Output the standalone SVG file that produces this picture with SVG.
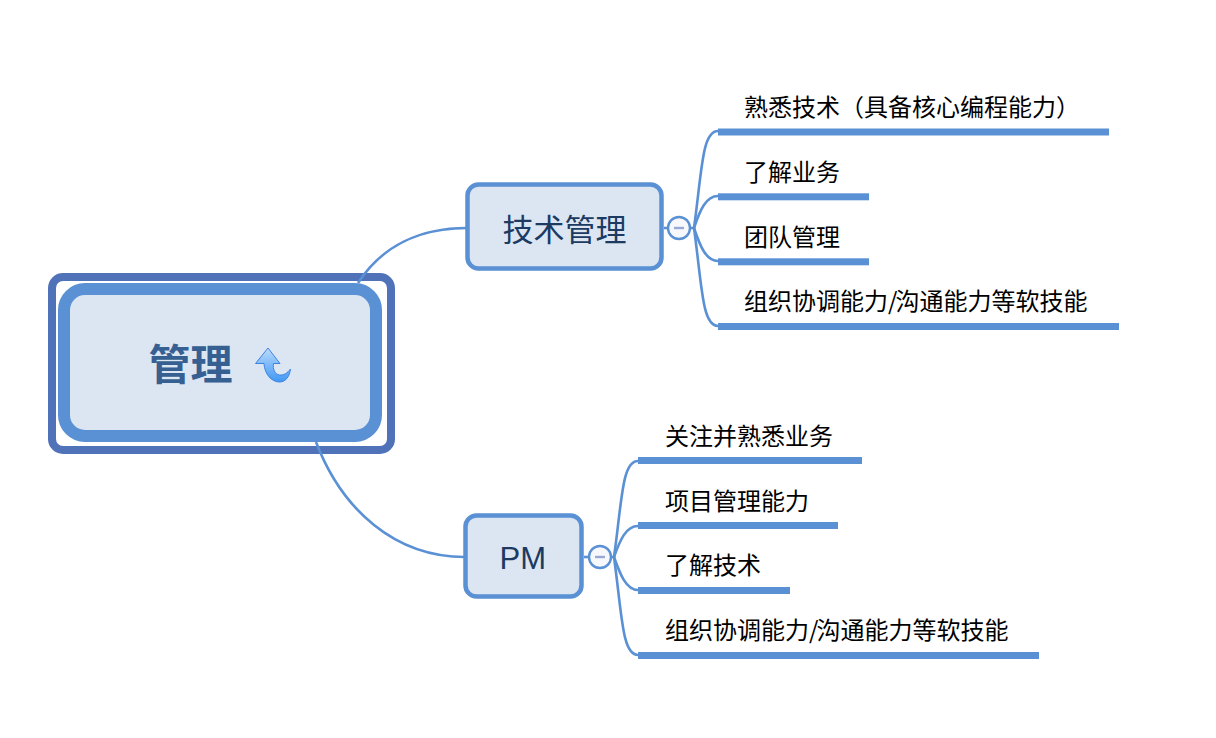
<svg xmlns="http://www.w3.org/2000/svg" width="1216" height="738" viewBox="0 0 1216 738">
<style>
text{font-family:"Noto Sans CJK SC","Liberation Sans",sans-serif}
.leaf{font-size:24px;fill:#000}
.topic{font-size:31px;fill:#1d3a63}
.box{fill:#dce6f2;stroke:#5a90d4;stroke-width:4.5}
.bar{fill:#5a90d4}
.con{fill:none;stroke:#5a90d4;stroke-width:2.6}
.col{fill:#f6f8fc;stroke:#5a90d4;stroke-width:2.4}
.minus{stroke:#9aa8d4;stroke-width:2.4}
</style>
<defs>
<linearGradient id="ar" x1="0" y1="0" x2="0" y2="1"><stop offset="0" stop-color="#bcdcfb"/><stop offset="1" stop-color="#3f97f5"/></linearGradient>
</defs>
<rect width="1216" height="738" fill="#fff"/>
<g id="root">
<rect x="52" y="277" width="339" height="173" rx="11" fill="#fff" stroke="#5072b9" stroke-width="8"/>
<rect x="64" y="289" width="312" height="147" rx="21" fill="#dce6f2" stroke="#5a90d4" stroke-width="12"/>
<text x="148.500" y="380" font-size="42" font-weight="700" fill="#365f92">管理</text>
<path d="M268 348L255.500 363.500H264C264.500 374 271.500 382 279.500 382C285.500 382 289.500 377 290.500 369C287.500 373 283.500 375.500 279.500 375C275 374.500 272.500 369 273.500 363.500H280Z" fill="url(#ar)" stroke="#3f83e0" stroke-width="1"/>
</g>
<g id="connectors">
<path class="con" d="M358 283C382 246 420 228 467 228"/>
<path class="con" d="M316 442C342 510 395 557 465 557"/>
<path class="con" d="M664 228H668"/>
<path class="con" d="M690 228H694"/>
<path class="con" d="M694 228C702 170 702 131 718 131"/>
<path class="con" d="M694 228C700 210 706 196 718 196"/>
<path class="con" d="M694 228C700 246 706 261 718 261"/>
<path class="con" d="M694 228C702 286 702 326 718 326"/>
<path class="con" d="M584 557H589"/>
<path class="con" d="M611 557H614"/>
<path class="con" d="M614 557C622 500 622 461 638 461"/>
<path class="con" d="M614 557C620 540 626 526 638 526"/>
<path class="con" d="M614 557C620 574 626 590 638 590"/>
<path class="con" d="M614 557C622 615 622 655 638 655"/>
</g>
<g id="topic-tech">
<rect class="box" x="467.500" y="184.500" width="194" height="84" rx="11"/>
<text class="topic" x="502.500" y="241">技术管理</text>
<circle class="col" cx="679" cy="228" r="11"/>
<path class="minus" d="M674 228H684"/>
</g>
<g id="topic-pm">
<rect class="box" x="465.500" y="515.500" width="116" height="81" rx="11"/>
<text class="topic" x="499.500" y="569" style="font-family:'Liberation Sans',sans-serif">PM</text>
<circle class="col" cx="600" cy="557" r="11"/>
<path class="minus" d="M595 557H605"/>
</g>
<g id="leaf-t1"><rect class="bar" x="718" y="128.500" width="391" height="7"/><text class="leaf" x="744" y="116">熟悉技术（具备核心编程能力）</text></g>
<g id="leaf-t2"><rect class="bar" x="718" y="193.300" width="151" height="7"/><text class="leaf" x="744" y="181">了解业务</text></g>
<g id="leaf-t3"><rect class="bar" x="718" y="258.300" width="151" height="7"/><text class="leaf" x="744" y="246">团队管理</text></g>
<g id="leaf-t4"><rect class="bar" x="718" y="323" width="401" height="7"/><text class="leaf" x="744" y="310">组织协调能力/<tspan dx="-2">沟通能力等软技能</tspan></text></g>
<g id="leaf-p1"><rect class="bar" x="638" y="457" width="224" height="7"/><text class="leaf" x="665" y="445">关注并熟悉业务</text></g>
<g id="leaf-p2"><rect class="bar" x="638" y="522" width="200" height="7"/><text class="leaf" x="665" y="510">项目管理能力</text></g>
<g id="leaf-p3"><rect class="bar" x="638" y="587" width="152" height="7"/><text class="leaf" x="665" y="574">了解技术</text></g>
<g id="leaf-p4"><rect class="bar" x="638" y="652" width="401" height="7"/><text class="leaf" x="665" y="639">组织协调能力/<tspan dx="-2">沟通能力等软技能</tspan></text></g>
</svg>
